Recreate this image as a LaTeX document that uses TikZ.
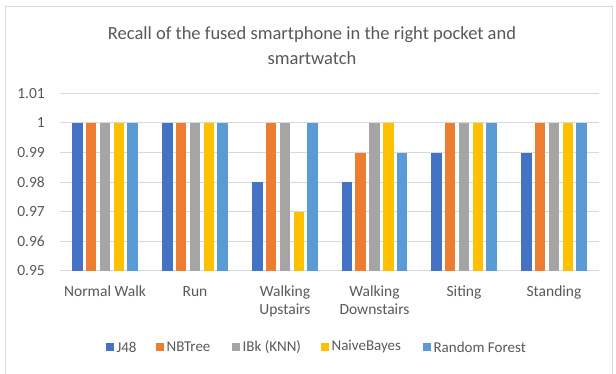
\documentclass[tikz,border=0pt]{standalone}
\usepackage{fontspec}
\setmainfont{Carlito}
\usetikzlibrary{positioning}
\definecolor{cJ}{HTML}{4472C4}
\definecolor{cN}{HTML}{ED7D31}
\definecolor{cI}{HTML}{A5A5A5}
\definecolor{cB}{HTML}{FFC000}
\definecolor{cR}{HTML}{5B9BD5}
\definecolor{gridc}{HTML}{D9D9D9}
\definecolor{txt}{HTML}{595959}
\tikzset{
  grid line/.style={draw=gridc, line width=1pt},
  frame/.style={draw=gridc, line width=1pt},
  ylab/.style={anchor=east, inner sep=0pt, text=txt, font=\fontsize{15.5}{16}\selectfont},
  catlab/.style={anchor=center, inner sep=0pt, align=center, text=txt, font=\fontsize{15.5}{18}\selectfont},
  title/.style={anchor=center, inner sep=0pt, align=center, text=txt, font=\fontsize{18.5}{24.5}\selectfont},
  leglab/.style={anchor=west, inner sep=0pt, text=txt, font=\fontsize{15}{16}\selectfont},
  legbox/.style={minimum width=7.5pt, minimum height=7.5pt, inner sep=0pt, anchor=west},
}
\begin{document}
\begin{tikzpicture}[x=1pt,y=-1pt]
\clip (0,0) rectangle (616,374);
\fill[white] (0,0) rectangle (616,374);
\draw[frame] (5,7) rectangle (612,380);
% title
\node[title] (title) at (312,45.5) {Recall of the fused smartphone in the right pocket and\\smartwatch};
% gridlines and y labels
\foreach \v/\lab [count=\i from 0] in {0.95/0.95,0.96/0.96,0.97/0.97,0.98/0.98,0.99/0.99,1.00/1,1.01/1.01}{
  \pgfmathsetmacro{\yy}{271-29.6*\i}
  \draw[grid line] (60,\yy) -- (599,\yy);
  \node[ylab] (y\i) at (45,\yy) {\lab};
}
% bars
\def\bw{10.5}
\def\pitch{13.8}
\newcommand{\groupbars}[6]{%
  \foreach \val/\col [count=\k from 0] in {#2/cJ,#3/cN,#4/cI,#5/cB,#6/cR}{
    \pgfmathsetmacro{\xc}{#1+(\k-2)*\pitch}
    \pgfmathsetmacro{\ytop}{271-(\val-0.95)*2960}
    \fill[\col] (\xc-\bw/2,271) rectangle (\xc+\bw/2,\ytop);
  }%
}
\groupbars{105}{1}{1}{1}{1}{1}
\groupbars{195}{1}{1}{1}{1}{1}
\groupbars{285}{0.98}{1}{1}{0.97}{1}
\groupbars{374.5}{0.98}{0.99}{1}{1}{0.99}
\groupbars{464}{0.99}{1}{1}{1}{1}
\groupbars{554}{0.99}{1}{1}{1}{1}
% category labels
\node[catlab, anchor=north] (c1) at (105,286) {Normal Walk};
\node[catlab, anchor=north] (c2) at (195,286) {Run};
\node[catlab, anchor=north] (c3) at (285,286) {Walking\\Upstairs};
\node[catlab, anchor=north] (c4) at (374.5,286) {Walking\\Downstairs};
\node[catlab, anchor=north] (c5) at (464,286) {Siting};
\node[catlab, anchor=north] (c6) at (554,286) {Standing};
% legend
\node[legbox, fill=cJ] (l1) at (106,347) {};
\node[leglab, right=2.5pt of l1] (t1) {J48};
\node[legbox, fill=cN] (l2) at (156,347) {};
\node[leglab, right=2.5pt of l2] (t2) {NBTree};
\node[legbox, fill=cI] (l3) at (232,347) {};
\node[leglab, right=2.5pt of l3] (t3) {IBk (KNN)};
\node[legbox, fill=cB] (l4) at (321,347) {};
\node[leglab, right=2.5pt of l4] (t4) {NaiveBayes};
\node[legbox, fill=cR] (l5) at (423,347) {};
\node[leglab, right=2.5pt of l5] (t5) {Random Forest};
\end{tikzpicture}
\end{document}
